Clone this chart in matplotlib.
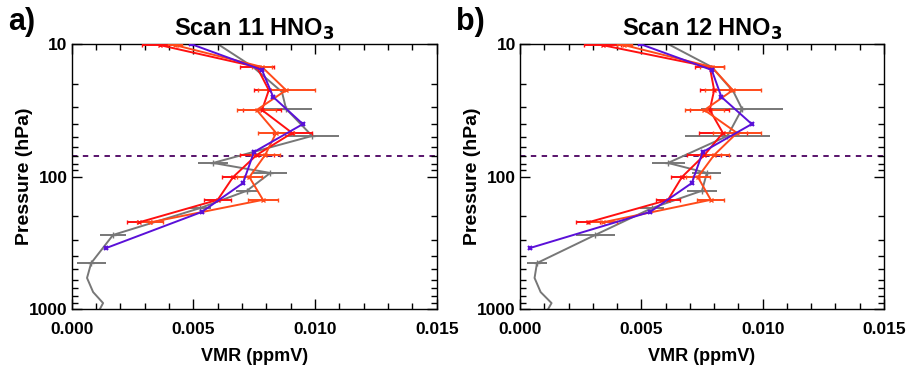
import numpy as np
import matplotlib.pyplot as plt
from matplotlib.ticker import FixedLocator, FormatStrFormatter, LogLocator, NullFormatter

plt.rcParams['font.family'] = ['Liberation Sans', 'DejaVu Sans']
plt.rcParams['font.weight'] = 'bold'

# pressure levels (hPa)
gray_p = [10, 14.9, 23, 30.9, 49.4, 79, 94, 128, 173, 276, 450, 583, 745, 902, 1000]
ret_p = [10.2, 14.9, 22.3, 31.5, 46.9, 68.8, 101, 150, 222]
blue_p = [10, 15.7, 25.1, 40.2, 65.3, 112, 185, 347]

# scan 11 (VMR in 1e-3 ppmV)
gray_a = [6.0, 7.45, 8.64, 8.81, 9.88, 5.81, 8.16, 7.2, 5.28, 1.70, 0.80, 0.63, 0.88, 1.29, 1.16]
gray_a_err = [0, 0, 0, 1.07, 1.1, 0.6, 0.7, 0.45, 0.45, 0.55, 0.6, 0, 0, 0, 0]
blue_a = [4.9, 7.82, 8.28, 9.5, 7.49, 7.04, 5.35, 1.41]
red_a = [3.63, 7.61, 8.1, 7.82, 9.06, 7.6, 6.63, 6.0, 2.76]
red_a_err = [0.75, 0.7, 0.6, 0.8, 0.8, 0.7, 0.45, 0.55, 0.5]
orng_a = [4.25, 7.82, 8.81, 7.6, 8.4, 7.95, 7.3, 7.86, 3.22]
orng_a_err = [0.3, 0.4, 1.17, 0.8, 0.75, 0.6, 0.5, 0.6, 0.55]

# scan 12
gray_b = [6.1, 7.9, 8.8, 9.15, 8.55, 6.1, 7.7, 7.5, 5.44, 3.1, 0.7, 0.6, 0.85, 1.3, 1.16]
gray_b_err = [0, 0, 0, 1.7, 1.75, 0.68, 0.6, 0.6, 0.5, 0.8, 0.4, 0, 0, 0, 0]
blue_b = [4.95, 7.9, 8.3, 9.55, 7.53, 7.08, 5.36, 0.4]
red_b = [3.4, 7.82, 8.0, 7.82, 8.36, 7.6, 6.67, 6.1, 2.8]
red_b_err = [0.75, 0.6, 0.6, 0.8, 1.0, 0.7, 0.45, 0.5, 0.5]
orng_b = [4.3, 7.9, 8.77, 7.6, 8.94, 8.0, 7.33, 7.86, 3.4]
orng_b_err = [0.3, 0.5, 1.15, 0.8, 1.0, 0.6, 0.5, 0.55, 0.6]

tropopause = 70

GRAY = '#777777'
BLUE = '#5a10d8'
RED = '#ff1010'
ORNG = '#ff4a1a'


def draw(ax, gray, gray_err, blue, red, red_err, orng, orng_err, title, tag):
    s = 1e-3
    g = np.array(gray) * s
    ge = np.array(gray_err) * s
    gp = np.array(gray_p)
    ax.plot(g, gp, color=GRAY, lw=1.4, zorder=2)
    m = ge > 0
    ax.errorbar(g[m], gp[m], xerr=ge[m], fmt='+', color=GRAY, ms=5, lw=1.4,
                elinewidth=1.4, capsize=0, zorder=2)
    ax.errorbar(np.array(red) * s, ret_p, xerr=np.array(red_err) * s, fmt='-x',
                color=RED, ms=3, lw=1.4, elinewidth=1.4, capsize=1.5, zorder=3)
    ax.errorbar(np.array(orng) * s, ret_p, xerr=np.array(orng_err) * s, fmt='-x',
                color=ORNG, ms=3, lw=1.4, elinewidth=1.4, capsize=1.5, zorder=3)
    ax.plot(np.array(blue) * s, blue_p, '-x', color=BLUE, ms=3, mew=1.5, lw=1.4, zorder=4)
    ax.axhline(tropopause, color='#4b0060', lw=1.3, ls=(0, (3, 3)), zorder=1)

    ax.set_yscale('log')
    ax.set_ylim(1000, 10)
    ax.set_xlim(0, 0.015)
    ax.yaxis.set_major_locator(FixedLocator([10, 100, 1000]))
    ax.yaxis.set_major_formatter(FormatStrFormatter('%d'))
    ax.yaxis.set_minor_locator(LogLocator(subs=np.arange(2, 10)))
    ax.yaxis.set_minor_formatter(NullFormatter())
    ax.xaxis.set_major_locator(FixedLocator([0, 0.005, 0.010, 0.015]))
    ax.xaxis.set_minor_locator(FixedLocator(np.arange(0, 0.0151, 0.001)))
    ax.xaxis.set_major_formatter(FormatStrFormatter('%.3f'))
    ax.tick_params(which='both', direction='in', top=True, right=True, width=1)
    ax.tick_params(which='major', length=7, labelsize=12.5)
    ax.tick_params(which='minor', length=4)
    ax.tick_params(axis='x', pad=9)
    ax.tick_params(axis='y', pad=3)
    for sp in ax.spines.values():
        sp.set_linewidth(1)
    ax.set_xlabel('VMR (ppmV)', fontsize=13, fontweight='bold', labelpad=8)
    ax.set_ylabel('Pressure (hPa)', fontsize=14, fontweight='bold', labelpad=-3)
    ax.set_title(title, fontsize=17, fontweight='bold', pad=6)
    ax.text(-0.175, 1.025, tag, transform=ax.transAxes, fontsize=22,
            fontweight='bold', ha='left', va='bottom')


fig = plt.figure(figsize=(9.11, 3.68), dpi=100)
ax1 = fig.add_axes([0.0787, 0.1603, 0.4007, 0.7201])
ax2 = fig.add_axes([0.5708, 0.1603, 0.3996, 0.7201])

draw(ax1, gray_a, gray_a_err, blue_a, red_a, red_a_err, orng_a, orng_a_err,
     'Scan 11 HNO$_\\mathbf{3}$', 'a)')
draw(ax2, gray_b, gray_b_err, blue_b, red_b, red_b_err, orng_b, orng_b_err,
     'Scan 12 HNO$_\\mathbf{3}$', 'b)')

plt.savefig('out.png', dpi=100)
